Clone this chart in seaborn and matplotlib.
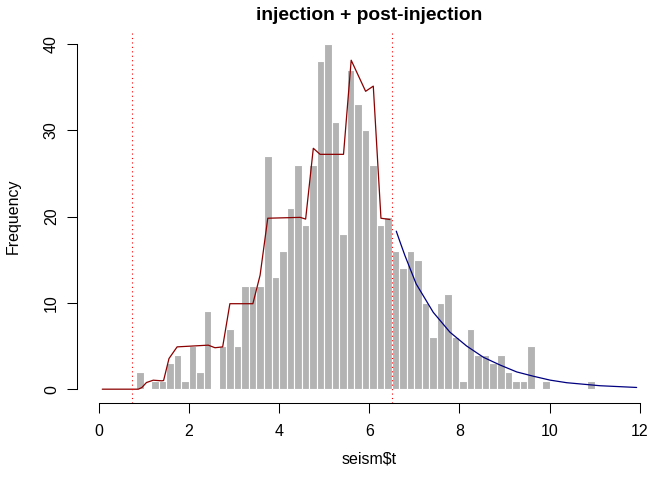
import numpy as np
import pandas as pd
import matplotlib
matplotlib.use("Agg")
import matplotlib.pyplot as plt
import seaborn as sns

# histogram of seism$t : bins of width 1/6 starting at 5/6
hist_start = 5 / 6
bin_width = 1 / 6
counts = [2, 0, 1, 1, 3, 4, 1, 5, 2, 9,
          0, 5, 7, 5, 12, 12, 12, 27, 13, 16,
          21, 26, 19, 26, 38, 40, 31, 18, 37, 33,
          30, 26, 19, 20, 16, 14, 16, 15, 10, 6,
          10, 11, 6, 1, 7, 4, 4, 3, 4, 2,
          1, 1, 5, 0, 1, 0, 0, 0, 0, 0,
          1]

# fitted rate during injection (dark red)
rate_x = [0.08, 0.88, 0.96, 1.06, 1.21, 1.40, 1.44, 1.56, 1.74, 2.43, 2.58, 2.75,
          2.91, 3.42, 3.58, 3.75, 4.47, 4.59, 4.76, 4.91, 5.43, 5.60, 5.92, 6.09,
          6.26, 6.46]
rate_y = [0, 0, 0.2, 0.77, 1.04, 0.97, 1.0, 3.55, 4.9, 5.1, 4.8, 4.9,
          9.9, 9.9, 13.2, 19.8, 19.9, 19.7, 27.9, 27.2, 27.2, 38.1, 34.5, 35.1,
          19.8, 19.65]

# post-injection decay (navy)
decay_x = [6.6, 6.68, 6.79, 7.04, 7.42, 7.79, 8.16, 8.53, 8.90, 9.27, 9.64,
           10.01, 10.38, 11.12, 11.93]
decay_y = [18.3, 17.1, 15.5, 12.2, 8.9, 6.6, 5.0, 3.7, 2.8, 2.0, 1.5,
           1.05, 0.75, 0.4, 0.2]

# injection window
vlines = [0.74, 6.5]

sns.set_style("white")
plt.rcParams["font.family"] = ["Liberation Sans", "DejaVu Sans"]
plt.rcParams["text.color"] = "black"
plt.rcParams["axes.labelcolor"] = "black"

edges = hist_start + bin_width * np.arange(len(counts) + 1)
hist_df = pd.DataFrame({"t": (edges[:-1] + edges[1:]) / 2, "n": counts})

fig = plt.figure(figsize=(6.72, 4.8), dpi=100)
ax = fig.add_axes([77 / 672, 1 - 403 / 480, 584 / 672, 373 / 480])

sns.histplot(data=hist_df, x="t", weights="n", bins=edges.tolist(), color="#B3B3B3",
             edgecolor="white", linewidth=0.8, alpha=1, ax=ax)
sns.lineplot(x=rate_x, y=rate_y, color="darkred", linewidth=0.9,
             sort=False, estimator=None, ax=ax)
sns.lineplot(x=decay_x, y=decay_y, color="navy", linewidth=0.9,
             sort=False, estimator=None, ax=ax)
for v in vlines:
    ax.axvline(v, color="red", linewidth=0.8, linestyle=(0, (1, 3)))

ax.set_xlim(-0.48, 12.47)
ax.set_ylim(-1.6, 41.6)
ax.set_xticks(range(0, 13, 2))
ax.set_yticks(range(0, 41, 10))

for s in ["top", "right"]:
    ax.spines[s].set_visible(False)
ax.spines["bottom"].set_bounds(0, 12)
ax.spines["left"].set_bounds(0, 40)
for s in ["bottom", "left"]:
    ax.spines[s].set_color("black")
    ax.spines[s].set_linewidth(0.75)

ax.tick_params(axis="both", which="major", length=7, width=0.75, color="black",
               labelsize=11.5, labelcolor="black", direction="out",
               bottom=True, left=True)
ax.tick_params(axis="x", pad=8)
ax.tick_params(axis="y", pad=6)
for lab in ax.get_yticklabels():
    lab.set_rotation(90)
    lab.set_va("center")

ax.set_title("injection + post-injection", fontsize=13.8, fontweight="bold",
             color="black", pad=7)
ax.set_xlabel("seism$t", fontsize=11.5, color="black")
ax.set_ylabel("Frequency", fontsize=11.5, color="black")
ax.xaxis.set_label_coords(0.5, -0.13)
ax.yaxis.set_label_coords(-0.097, 0.5)

fig.savefig("out.png", dpi=100)
